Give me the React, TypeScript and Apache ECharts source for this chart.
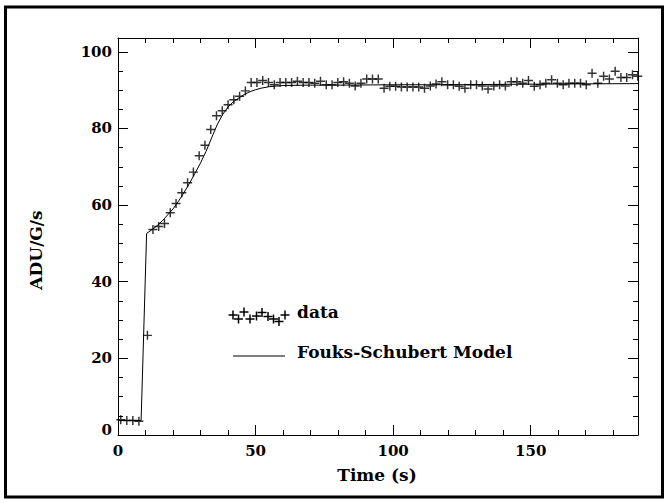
import React, { useEffect, useRef } from "react";
import * as echarts from "echarts";

// ---- data ----
const dataTime = [
  1.0, 3.2, 5.4, 7.6, 10.7, 12.7, 14.8, 16.9, 19.0, 21.1, 23.2, 25.3, 27.4, 29.5,
  31.6, 33.7, 35.8, 37.9, 40.0, 42.1, 44.2, 46.3, 48.4, 50.5, 52.6, 54.7, 56.8,
  58.9, 61.0, 63.1, 65.2, 67.3, 69.4, 71.5, 73.6, 75.7, 77.8, 79.9, 82.0, 84.1,
  86.2, 88.3, 90.4, 92.5, 94.6, 96.7, 98.8, 100.9, 103.0, 105.1, 107.2, 109.3,
  111.4, 113.5, 115.6, 117.7, 119.8, 121.9, 124.0, 126.1, 128.2, 130.3, 132.4,
  134.5, 136.6, 138.7, 140.8, 142.9, 145.0, 147.1, 149.2, 151.3, 153.4, 155.5,
  157.6, 159.7, 161.8, 163.9, 166.0, 168.1, 170.2, 172.3, 174.4, 176.5, 178.6,
  180.7, 182.8, 184.9, 187.0, 188.9,
];
const dataValue = [
  4.0, 3.8, 3.8, 3.6, 26.0, 53.6, 54.4, 55.2, 58.0, 60.4, 63.2, 65.8, 68.6, 72.9,
  75.6, 79.7, 83.3, 84.6, 86.2, 87.5, 88.4, 89.8, 92.0, 92.0, 92.5, 92.0, 91.4,
  92.0, 92.0, 92.0, 92.3, 92.0, 92.0, 91.8, 92.3, 91.4, 91.4, 92.0, 92.2, 91.8,
  91.1, 91.8, 92.9, 92.9, 92.9, 90.5, 91.0, 91.0, 90.8, 90.8, 90.8, 90.8,
  90.5, 91.1, 91.6, 92.2, 91.4, 91.4, 91.0, 90.5, 91.4, 91.4, 91.1,
  90.3, 91.1, 91.4, 91.1, 92.2, 92.2, 91.8, 92.5, 91.0, 91.4, 91.8,
  92.7, 91.8, 91.4, 91.8, 91.8, 91.8, 91.4, 94.4, 91.8, 93.6, 92.9,
  94.9, 93.3, 93.3, 94.0, 93.6,
];
const modelTime = [
  0, 8.4, 10.4, 12, 14, 16, 18, 20, 22, 24, 26, 28, 30, 32, 34, 36, 38, 40, 42,
  44, 46, 48, 50, 52, 55, 60, 70, 80, 100, 120, 140, 160, 189,
];
const modelValue = [
  3.8, 3.8, 52.6, 53.4, 54.5, 55.8, 57.4, 59.0, 61.0, 63.3, 65.7, 68.3, 71.0,
  74.0, 77.5, 80.9, 83.6, 85.6, 87.0, 88.0, 88.9, 89.6, 90.1, 90.5, 90.9, 91.2,
  91.3, 91.3, 91.4, 91.4, 91.5, 91.6, 91.7,
];
const xTickLabels = [0, 50, 100, 150];
const yTickLabels = [0, 20, 40, 60, 80, 100];
const seriesNames = ["data", "Fouks-Schubert Model"];
const xTitle = "Time (s)";
const yTitle = "ADU/G/s";

// legend cross offsets (decoration, mimics the sample glyph row)
const legendCrossDx = [0, 5.5, 11, 17, 23.5, 29, 35, 40.5, 46, 52];
const legendCrossDy = [0, 4, -3, 4, 1, -2.5, 1.5, 4, 6.5, 0];

const FONT = "DejaVu Serif";
const X_MIN = 0;
const X_MAX = 189;
const Y_MIN = 0;
const Y_MAX = 103.6;
const PLUS = "path://M0,9.2H9.2V0H12.8V9.2H22V12.8H12.8V22H9.2V12.8H0Z";

function crossGfx(x: number, y: number, s: number) {
  const h = s / 2;
  return {
    type: "group",
    x,
    y,
    children: [
      { type: "line", shape: { x1: -h, y1: 0, x2: h, y2: 0 }, style: { stroke: "#000", lineWidth: 1.5 } },
      { type: "line", shape: { x1: 0, y1: -h, x2: 0, y2: h }, style: { stroke: "#000", lineWidth: 1.5 } },
    ],
  };
}

export default function App() {
  const ref = useRef<HTMLDivElement>(null);
  useEffect(() => {
    if (!ref.current) return;
    const chart = echarts.init(ref.current, undefined, { renderer: "svg" });
    const lineStyle = { color: "#000", width: 1 };
    const labelFont = { color: "#000", fontFamily: FONT, fontSize: 15, fontWeight: "bold" as const };
    const majorX = (pos: string, labels: boolean) => ({
      type: "value",
      position: pos,
      min: X_MIN,
      max: X_MAX,
      interval: 50,
      axisLine: { show: true, onZero: false, lineStyle },
      axisTick: { show: true, inside: true, length: 10, lineStyle },
      axisLabel: {
        show: labels,
        margin: 8,
        ...labelFont,
        showMaxLabel: false,
        formatter: (v: number) => (xTickLabels.includes(v) ? String(v) : ""),
      },
      splitLine: { show: false },
    });
    const minorX = (pos: string) => ({
      type: "value",
      position: pos,
      min: X_MIN,
      max: X_MAX,
      interval: 10,
      axisLine: { show: false, onZero: false },
      axisTick: { show: true, inside: true, length: 5, lineStyle },
      axisLabel: { show: false },
      splitLine: { show: false },
    });
    const majorY = (pos: string, labels: boolean) => ({
      type: "value",
      position: pos,
      min: Y_MIN,
      max: Y_MAX,
      interval: 20,
      axisLine: { show: true, onZero: false, lineStyle },
      axisTick: { show: true, inside: true, length: 10, lineStyle },
      axisLabel: {
        show: labels,
        margin: 6,
        ...labelFont,
        showMaxLabel: false,
        formatter: (v: number) =>
          yTickLabels.includes(v) ? (v === 0 ? "{z|0}" : String(v)) : "",
        rich: { z: { ...labelFont, padding: [0, 0, 11, 0] } },
      },
      splitLine: { show: false },
    });
    const minorY = (pos: string) => ({
      type: "value",
      position: pos,
      min: Y_MIN,
      max: Y_MAX,
      interval: 5,
      axisLine: { show: false, onZero: false },
      axisTick: { show: true, inside: true, length: 5, lineStyle },
      axisLabel: { show: false },
      splitLine: { show: false },
    });

    const legendX = 233;
    const legendY = 315;
    const textFont = `bold 17px '${FONT}'`;
    const graphic: any[] = [
      {
        type: "rect",
        shape: { x: 5.5, y: 7, width: 657, height: 490 },
        style: { fill: "none", stroke: "#000", lineWidth: 3 },
        silent: true,
      },
      {
        type: "text",
        x: 377,
        y: 475,
        style: { text: xTitle, font: textFont, fill: "#000", align: "center", verticalAlign: "middle" },
      },
      {
        type: "text",
        x: 36,
        y: 250,
        rotation: Math.PI / 2,
        style: { text: yTitle, font: textFont, fill: "#000", align: "center", verticalAlign: "middle" },
      },
      ...legendCrossDx.map((dx, i) => crossGfx(legendX + dx, legendY + legendCrossDy[i], 9)),
      {
        type: "text",
        x: 297,
        y: 312,
        style: { text: seriesNames[0], font: textFont, fill: "#000", align: "left", verticalAlign: "middle" },
      },
      {
        type: "line",
        shape: { x1: 233, y1: 356, x2: 285, y2: 356 },
        style: { stroke: "#000", lineWidth: 1 },
      },
      {
        type: "text",
        x: 297,
        y: 352,
        style: { text: seriesNames[1], font: textFont, fill: "#000", align: "left", verticalAlign: "middle" },
      },
    ];

    chart.setOption({
      animation: false,
      backgroundColor: "#fff",
      grid: { left: 118, right: 31, top: 38, bottom: 68, containLabel: false },
      xAxis: [majorX("bottom", true), minorX("bottom"), majorX("top", false), minorX("top")],
      yAxis: [majorY("left", true), minorY("left"), majorY("right", false), minorY("right")],
      series: [
        {
          name: seriesNames[1],
          type: "line",
          xAxisIndex: 0,
          yAxisIndex: 0,
          data: modelTime.map((t, i) => [t, modelValue[i]]),
          showSymbol: false,
          smooth: false,
          lineStyle: { color: "#000", width: 1 },
          z: 2,
        },
        {
          name: seriesNames[0],
          type: "scatter",
          xAxisIndex: 0,
          yAxisIndex: 0,
          data: dataTime.map((t, i) => [t, dataValue[i]]),
          symbol: PLUS,
          symbolSize: 9,
          symbolKeepAspect: true,
          itemStyle: { color: "#000" },
          z: 3,
        },
      ],
      graphic,
    });
    return () => chart.dispose();
  }, []);
  return (
    <div
      ref={ref}
      style={{ position: "fixed", left: 0, top: 0, width: 669, height: 503, background: "#fff" }}
    />
  );
}
